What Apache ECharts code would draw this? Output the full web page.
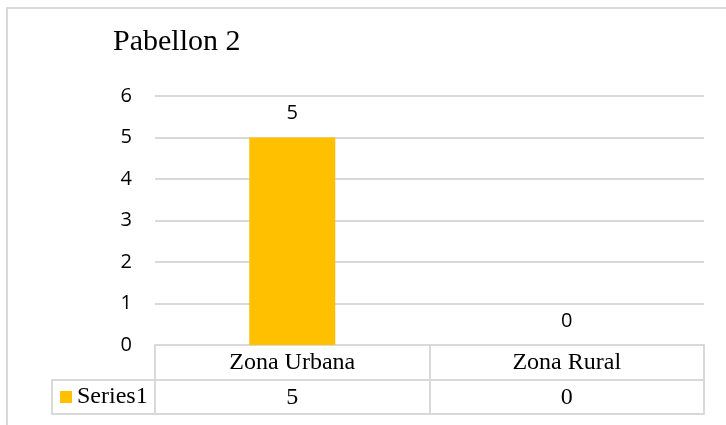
<!DOCTYPE html>
<html>
<head>
<meta charset="utf-8">
<script src="https://cdn.jsdelivr.net/npm/echarts@6/dist/echarts.min.js"></script>
<style>
html,body{margin:0;padding:0;background:#fff;}
#chart{width:726px;height:425px;}
</style>
</head>
<body>
<div id="chart"></div>
<script>
const titleText = 'Pabellon 2';
const categories = ['Zona Urbana', 'Zona Rural'];
const seriesName = 'Series1';
const values = [5, 0];
const yMin = 0, yMax = 6, yStep = 1;

const gridColor = '#d9d9d9';
const barColor = '#FFC000';
const serif = '"Liberation Serif", "Times New Roman", serif';
const sans = '"Open Sans", "Noto Sans", sans-serif';

const chart = echarts.init(document.getElementById('chart'), null, {renderer: 'canvas'});

const tableAxis = (offset) => ({
  type: 'category',
  data: categories,
  position: 'bottom',
  offset: offset,
  gridIndex: 0,
  axisLine: {show: true, lineStyle: {color: gridColor, width: 2}},
  axisTick: {show: false},
  axisLabel: {show: false},
  splitLine: {show: false}
});

const option = {
  animation: false,
  backgroundColor: '#fff',
  title: {
    text: titleText,
    left: 108,
    top: 22,
    textStyle: {fontFamily: serif, fontSize: 30, fontWeight: 'normal', color: '#000'}
  },
  legend: {
    data: [seriesName],
    left: 60,
    top: 385,
    padding: 0,
    icon: 'rect',
    itemWidth: 12,
    itemHeight: 12,
    textStyle: {fontFamily: serif, fontSize: 24, color: '#000'}
  },
  grid: {left: 155, right: 22, top: 96, bottom: 80, containLabel: false},
  xAxis: [
    {
      type: 'category',
      data: categories,
      position: 'bottom',
      axisLine: {show: true, lineStyle: {color: gridColor, width: 2}},
      axisTick: {show: true, interval: 0, length: 69, lineStyle: {color: gridColor, width: 2}},
      axisLabel: {
        show: true,
        interval: 0,
        margin: 0,
        formatter: function (val, idx) {
          return '{a|' + val + '}\n{b|' + values[idx] + '}';
        },
        rich: {
          a: {fontFamily: serif, fontSize: 24, color: '#000', lineHeight: 35, height: 35},
          b: {fontFamily: serif, fontSize: 24, color: '#000', lineHeight: 35, height: 35}
        }
      },
      splitLine: {show: false}
    },
    tableAxis(35),
    tableAxis(69)
  ],
  yAxis: {
    type: 'value',
    min: yMin,
    max: yMax,
    interval: yStep,
    axisLine: {show: false},
    axisTick: {show: false},
    axisLabel: {margin: 23, fontFamily: sans, fontSize: 20, color: '#000'},
    splitLine: {show: true, lineStyle: {color: gridColor, width: 2}}
  },
  series: [{
    name: seriesName,
    type: 'bar',
    data: values,
    barWidth: 86,
    itemStyle: {color: barColor},
    label: {
      show: true,
      position: 'top',
      distance: 14,
      fontFamily: sans,
      fontSize: 20,
      color: '#000'
    }
  }],
  graphic: [
    {
      type: 'rect',
      silent: true,
      shape: {x: 7, y: 8, width: 740, height: 440},
      style: {fill: 'none', stroke: gridColor, lineWidth: 2},
      z: -1
    },
    {
      type: 'rect',
      silent: true,
      shape: {x: 52, y: 380, width: 103, height: 34},
      style: {fill: 'none', stroke: gridColor, lineWidth: 2},
      z: 1
    }
  ]
};
chart.setOption(option);
</script>
</body>
</html>
